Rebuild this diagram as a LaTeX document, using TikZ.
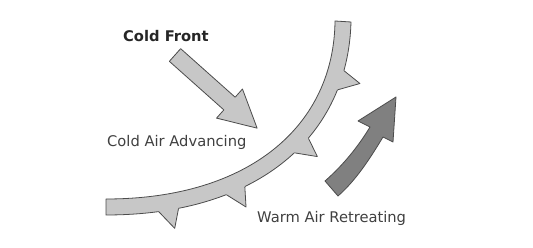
\documentclass[tikz,border=0pt]{standalone}
\usepackage{fontspec}
\setmainfont{DejaVu Sans}
\usetikzlibrary{decorations.markings}

\begin{document}
\begin{tikzpicture}[
  x=1pt, y=1pt,
  outline/.style={draw=black!70, line width=0.8pt, line join=round},
  front/.style={outline, fill=black!22},
  coldarrow/.style={outline, fill=black!22},
  warmarrow/.style={outline, fill=black!50},
  txt/.style={anchor=base west, inner sep=0pt, font=\fontsize{14.7}{16}\selectfont, text=black!75},
  tooth/.pic={
    \fill[black!22] (-10,2) -- (-10,0) -- (3,-19) -- (10,0) -- (10,2) -- cycle;
    \draw[outline] (-10,0) -- (3,-19) -- (10,0);
  }
]
\useasboundingbox (0,0) rectangle (533,248);

% the front band
\draw[front] (106,49) .. controls (250,49) and (334,123) .. (335,227)
  -- (351,226) .. controls (348,113) and (260,33) .. (106,33) -- cycle;
\path[decorate, decoration={markings,
    mark=at position 0.18 with {\pic[transform shape]{tooth};},
    mark=at position 0.38 with {\pic[transform shape]{tooth};},
    mark=at position 0.61 with {\pic[transform shape]{tooth};},
    mark=at position 0.83 with {\pic[transform shape]{tooth};}}]
  (106,33) .. controls (260,33) and (348,113) .. (351,226);

% air arrows
\draw[coldarrow, shift={(175,193)}, rotate=-41.7]
  (0,8.5) -- (73,8.5) -- (73,19.5) -- (110,0) -- (73,-19.5) -- (73,-8.5) -- (0,-8.5) -- cycle;
\draw[warmarrow] (325,67) .. controls (342.4,82.1) and (358.2,101.3) .. (370,121)
  -- (358,127) -- (396,151) -- (393,106) -- (383,111)
  .. controls (370.6,90.4) and (356.1,67.7) .. (338,52) -- cycle;

\node[txt, text=black!85] (coldfront) at (123,206) {\bfseries Cold Front};
\node[txt] (coldair) at (107,101.5) {Cold Air Advancing};
\node[txt] (warmair) at (257,25.3) {Warm Air Retreating};
\end{tikzpicture}
\end{document}
